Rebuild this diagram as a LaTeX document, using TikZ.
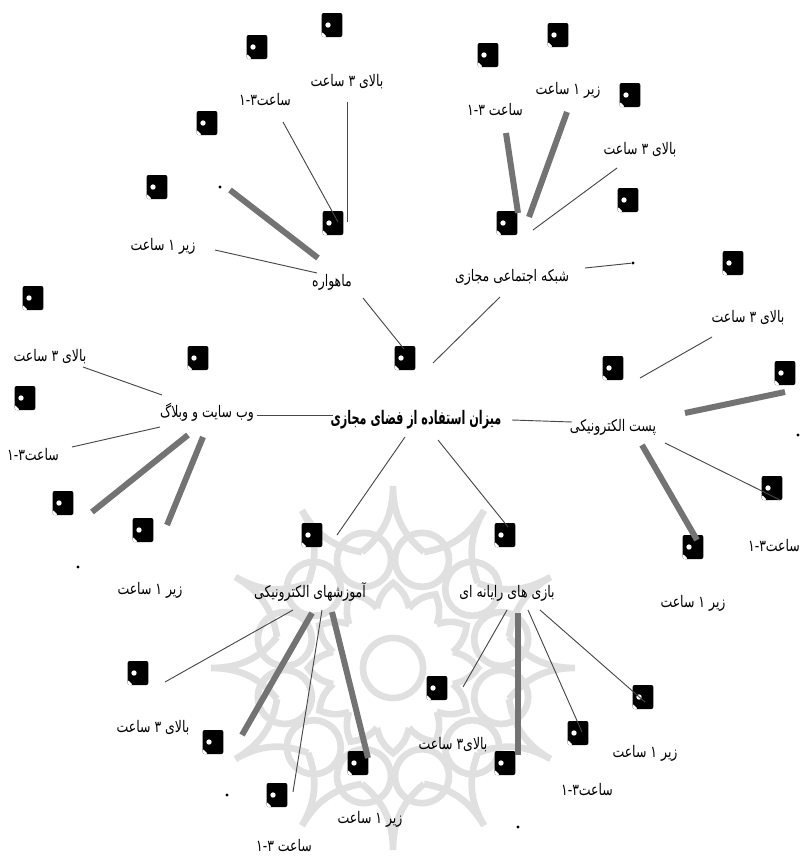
\documentclass[tikz,border=0pt]{standalone}
\usepackage{fontspec}
\newfontfamily\fafont[Script=Arabic,FakeStretch=0.78]{DejaVu Sans}
\newfontfamily\faheadfont[Script=Arabic,FakeStretch=0.6]{DejaVu Sans}
\TeXXeTstate=1
\newcommand{\fatext}[1]{\beginR #1\endR}

\begin{document}
\begin{tikzpicture}[x=0.75pt,y=-0.75pt]
\tikzstyle{every node}=[]
\tikzstyle{icon}=[rectangle, fill=black, rounded corners=1.5pt, inner sep=0pt, minimum width=15.5pt, minimum height=18pt,
  path picture={\fill[white] ([xshift=-3pt]path picture bounding box.center) circle (2pt);
                \fill[white] (path picture bounding box.south west) -- ++(4pt,0) -- ++(-4pt,4pt) -- cycle;}]
\tikzstyle{dot}=[circle, fill=black, inner sep=0pt, minimum size=2.6pt]
\tikzstyle{lbl}=[font=\fafont\fontsize{12}{14}\selectfont, inner sep=0pt]
\tikzstyle{head}=[font=\faheadfont\bfseries\fontsize{14}{17}\selectfont, inner sep=0pt]
\tikzstyle{lnk}=[draw=black!72, line width=0.7pt]
\tikzstyle{bar}=[draw=black!55, line width=4.5pt]
\tikzstyle{wm}=[draw=black!12, line width=5pt]

\useasboundingbox (0,0) rectangle (805,857);

% watermark behind the tree
\begin{scope}[shift={(393,668)}]
\foreach \a in {0,30,...,330} {
  \draw[wm] (\a-15:120) to[bend right=25] (\a:182) to[bend right=25] (\a+15:120);
  \draw[wm] (\a+15:112) circle (27);
  \draw[wm] (\a-15:62) to[bend left=20] (\a:85) to[bend left=20] (\a+15:62);
}
\draw[wm] (0,0) circle (30);
\end{scope}

% icons
\node[icon] (i1)  at (332,25)  {};
\node[icon] (i2)  at (257,47)  {};
\node[icon] (i3)  at (558,35)  {};
\node[icon] (i4)  at (488,55)  {};
\node[icon] (i5)  at (630,95)  {};
\node[icon] (i6)  at (207,123) {};
\node[icon] (i7)  at (157,187) {};
\node[icon] (i8)  at (333,223) {};
\node[icon] (i9)  at (507,223) {};
\node[icon] (i10) at (628,200) {};
\node[icon] (i11) at (733,263) {};
\node[icon] (i12) at (33,298)  {};
\node[icon] (i13) at (198,358) {};
\node[icon] (i14) at (405,358) {};
\node[icon] (i15) at (613,368) {};
\node[icon] (i16) at (785,373) {};
\node[icon] (i17) at (25,398)  {};
\node[icon] (i18) at (772,488) {};
\node[icon] (i19) at (63,503)  {};
\node[icon] (i20) at (143,530) {};
\node[icon] (i21) at (312,535) {};
\node[icon] (i22) at (505,535) {};
\node[icon] (i23) at (693,547) {};
\node[icon] (i24) at (138,673) {};
\node[icon] (i25) at (437,688) {};
\node[icon] (i26) at (643,697) {};
\node[icon] (i27) at (213,742) {};
\node[icon] (i28) at (578,733) {};
\node[icon] (i29) at (358,763) {};
\node[icon] (i30) at (505,763) {};
\node[icon] (i31) at (277,795) {};

% stray dots
\node[dot] (d1) at (220,187) {};
\node[dot] (d2) at (633,263) {};
\node[dot] (d3) at (798,435) {};
\node[dot] (d4) at (78,567)  {};
\node[dot] (d5) at (227,795) {};
\node[dot] (d6) at (518,827) {};

% centre and branches
\node[head] (ctr)  at (416,420) {\fatext{میزان استفاده از فضای مجازی}};
\node[lbl]  (sat)  at (332,282) {\fatext{ماهواره}};
\node[lbl]  (soc)  at (512,277) {\fatext{شبکه اجتماعی مجازی}};
\node[lbl]  (mail) at (613,427) {\fatext{پست الکترونیکی}};
\node[lbl]  (web)  at (207,412) {\fatext{وب سایت و وبلاگ}};
\node[lbl]  (edu)  at (310,592) {\fatext{آموزشهای الکترونیکی}};
\node[lbl]  (game) at (507,593) {\fatext{بازی های رایانه ای}};

% hours
\node[lbl] (sathi)  at (347,82)  {\fatext{بالای ۳ ساعت}};
\node[lbl] (satmid) at (265,100) {\fatext{ساعت\beginL ۱-۳\endL}};
\node[lbl] (satlo)  at (163,246) {\fatext{زیر ۱ ساعت}};
\node[lbl] (soclo)  at (568,90)  {\fatext{زیر ۱ ساعت}};
\node[lbl] (socmid) at (495,110) {\fatext{ساعت \beginL ۱-۳\endL}};
\node[lbl] (sochi)  at (640,150) {\fatext{بالای ۳ ساعت}};
\node[lbl] (mailhi)  at (748,318) {\fatext{بالای ۳ ساعت}};
\node[lbl] (mailmid) at (774,546) {\fatext{ساعت\beginL ۱-۳\endL}};
\node[lbl] (maillo)  at (693,603) {\fatext{زیر ۱ ساعت}};
\node[lbl] (webhi)  at (50,357)  {\fatext{بالای ۳ ساعت}};
\node[lbl] (webmid) at (33,455)  {\fatext{ساعت\beginL ۱-۳\endL}};
\node[lbl] (weblo)  at (150,590) {\fatext{زیر ۱ ساعت}};
\node[lbl] (eduhi)  at (153,728) {\fatext{بالای ۳ ساعت}};
\node[lbl] (edulo)  at (370,819) {\fatext{زیر ۱ ساعت}};
\node[lbl] (edumid) at (284,846) {\fatext{ساعت \beginL ۱-۳\endL}};
\node[lbl] (gamehi)  at (453,745) {\fatext{بالای۳ ساعت}};
\node[lbl] (gamemid) at (587,790) {\fatext{ساعت\beginL ۱-۳\endL}};
\node[lbl] (gamelo)  at (645,753) {\fatext{زیر ۱ ساعت}};

% loose ends of the links
\coordinate (cs1) at (363,298); \coordinate (cs2) at (404,349);
\coordinate (cn1) at (500,297); \coordinate (cn2) at (433,363);
\coordinate (cm1) at (512,420); \coordinate (cm2) at (572,422);
\coordinate (cw1) at (257,415); \coordinate (cw2) at (333,415);
\coordinate (ce1) at (405,437); \coordinate (ce2) at (337,535);
\coordinate (cg1) at (438,440); \coordinate (cg2) at (508,527);

\coordinate (s1a) at (283,122); \coordinate (s1b) at (338,222);
\coordinate (s2a) at (347,102); \coordinate (s2b) at (347,222);
\coordinate (s3a) at (215,250); \coordinate (s3b) at (317,273);
\coordinate (s4a) at (230,190); \coordinate (s4b) at (318,258);

\coordinate (n1a) at (506,133); \coordinate (n1b) at (518,213);
\coordinate (n2a) at (567,112); \coordinate (n2b) at (529,217);
\coordinate (n3a) at (617,168); \coordinate (n3b) at (533,230);
\coordinate (n4a) at (585,268);

\coordinate (m1a) at (712,337); \coordinate (m1b) at (640,378);
\coordinate (m2a) at (685,413); \coordinate (m2b) at (785,392);
\coordinate (m3a) at (665,443); \coordinate (m3b) at (780,500);
\coordinate (m4a) at (642,445); \coordinate (m4b) at (697,540);

\coordinate (w1a) at (83,367);  \coordinate (w1b) at (162,395);
\coordinate (w2a) at (72,447);  \coordinate (w2b) at (160,427);
\coordinate (w3a) at (92,512);  \coordinate (w3b) at (188,435);
\coordinate (w4a) at (167,525); \coordinate (w4b) at (203,437);

\coordinate (e1a) at (293,610); \coordinate (e1b) at (165,682);
\coordinate (e2a) at (312,613); \coordinate (e2b) at (242,735);
\coordinate (e3a) at (322,610); \coordinate (e3b) at (293,792);
\coordinate (e4a) at (332,612); \coordinate (e4b) at (368,758);

\coordinate (g1a) at (507,610); \coordinate (g1b) at (463,687);
\coordinate (g2a) at (518,613); \coordinate (g2b) at (518,755);
\coordinate (g3a) at (528,610); \coordinate (g3b) at (582,732);
\coordinate (g4a) at (540,610); \coordinate (g4b) at (645,702);

\draw[lnk] (cs1) -- (cs2);
\draw[lnk] (cn1) -- (cn2);
\draw[lnk] (cm1) -- (cm2);
\draw[lnk] (cw1) -- (cw2);
\draw[lnk] (ce1) -- (ce2);
\draw[lnk] (cg1) -- (cg2);

\draw[lnk] (s1a) -- (s1b);
\draw[lnk] (s2a) -- (s2b);
\draw[lnk] (s3a) -- (s3b);
\draw[bar] (s4a) -- (s4b);

\draw[bar] (n1a) -- (n1b);
\draw[bar] (n2a) -- (n2b);
\draw[lnk] (n3a) -- (n3b);
\draw[lnk] (n4a) -- (d2);

\draw[lnk] (m1a) -- (m1b);
\draw[bar] (m2a) -- (m2b);
\draw[lnk] (m3a) -- (m3b);
\draw[bar] (m4a) -- (m4b);

\draw[lnk] (w1a) -- (w1b);
\draw[lnk] (w2a) -- (w2b);
\draw[bar] (w3a) -- (w3b);
\draw[bar] (w4a) -- (w4b);

\draw[lnk] (e1a) -- (e1b);
\draw[bar] (e2a) -- (e2b);
\draw[lnk] (e3a) -- (e3b);
\draw[bar] (e4a) -- (e4b);

\draw[lnk] (g1a) -- (g1b);
\draw[bar] (g2a) -- (g2b);
\draw[lnk] (g3a) -- (g3b);
\draw[lnk] (g4a) -- (g4b);
\end{tikzpicture}
\end{document}
